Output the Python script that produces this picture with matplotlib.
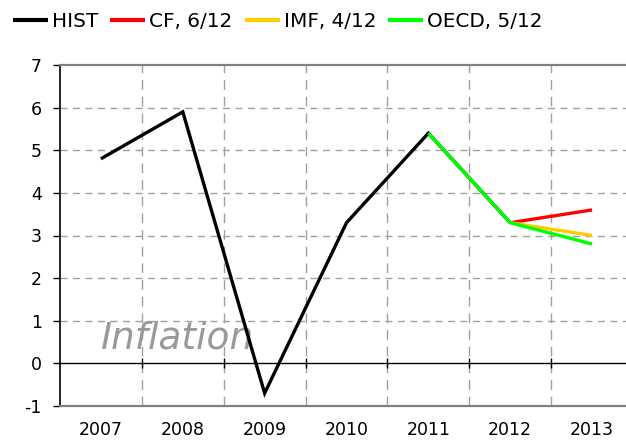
import numpy as np
import matplotlib
matplotlib.use("Agg")
import matplotlib.pyplot as plt

years = ["2007", "2008", "2009", "2010", "2011", "2012", "2013"]
hist = [4.8, 5.9, -0.7, 3.3, 5.4, 3.3, np.nan]
cf = [np.nan, np.nan, np.nan, np.nan, np.nan, 3.3, 3.6]
imf = [np.nan, np.nan, np.nan, np.nan, np.nan, 3.3, 3.0]
oecd = [np.nan, np.nan, np.nan, np.nan, 5.4, 3.3, 2.8]
series_names = ["HIST", "CF, 6/12", "IMF, 4/12", "OECD, 5/12"]
series_colors = ["#000000", "#ff0000", "#ffcc00", "#00ff00"]
yticks = [-1, 0, 1, 2, 3, 4, 5, 6, 7]

plt.rcParams['font.family'] = ['DejaVu Sans']
fig = plt.figure(figsize=(6.26, 4.41), dpi=100)
W, H = 626, 441
ax = fig.add_axes([60 / W, (H - 406) / H, (633 - 60) / W, (406 - 65) / H])

x = np.arange(len(years))
lines = []
for data, name, col in zip([hist, cf, imf, oecd], series_names, series_colors):
    ln, = ax.plot(x, data, color=col, lw=2.4, label=name, solid_capstyle='butt',
                  solid_joinstyle='miter', zorder=3)
    lines.append(ln)

ax.set_xlim(-0.5, len(years) - 0.5)
ax.set_ylim(-1, 7)
ax.set_yticks(yticks)
ax.set_yticklabels([str(v) for v in yticks])
ax.set_xticks(x)
ax.set_xticklabels(years)

# grid
for yv in yticks[2:-1]:
    ax.axhline(yv, color='#a0a0a0', lw=1, ls=(0, (5, 4)), zorder=1)
bounds = np.arange(0.5, len(years) - 0.5, 1.0)
for bv in bounds:
    ax.axvline(bv, color='#a0a0a0', lw=1, ls=(0, (7, 5)), zorder=1)
ax.axhline(0, color='black', lw=1, zorder=2)
ax.plot(bounds, np.zeros_like(bounds), ls='none', marker='|', ms=7, mew=1,
        color='black', zorder=2)

for s in ['top', 'bottom']:
    ax.spines[s].set_color('#808080')
    ax.spines[s].set_linewidth(1.6)
ax.spines['right'].set_visible(False)
ax.spines['left'].set_color('black')
ax.spines['left'].set_linewidth(1.2)

ax.tick_params(axis='x', length=0, pad=11, labelsize=12.5)
ax.tick_params(axis='y', length=5, width=1, pad=8, labelsize=12.5, direction='out')

ax.text(0.0, 0.58, "Inflation", fontsize=27, style='italic', color='#999999',
        ha='left', va='center', zorder=2)

fig.legend(handles=lines, loc='upper left', bbox_to_anchor=(13 / W, 1 - 12 / H),
           ncol=4, frameon=False, fontsize=14.4, handlelength=1.75,
           handletextpad=0.2, columnspacing=0.6, borderaxespad=0, borderpad=0)
for lh in fig.legends[0].get_lines():
    lh.set_linewidth(3)

fig.savefig("out.png", dpi=100)
